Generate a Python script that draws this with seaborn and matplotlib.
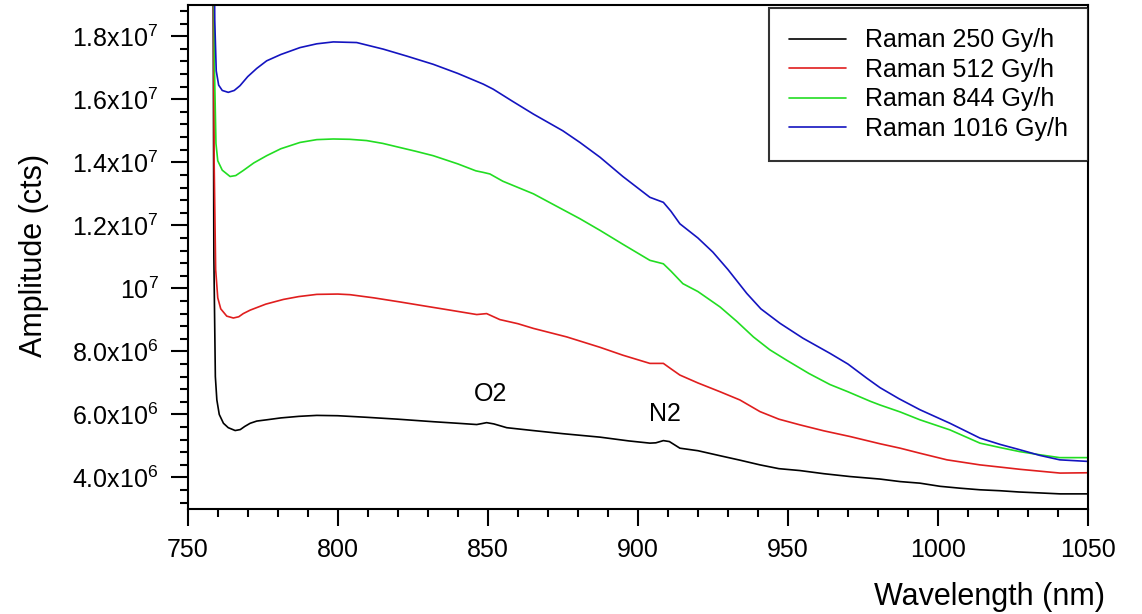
import pandas as pd
import matplotlib.pyplot as plt
from matplotlib.ticker import MultipleLocator
import seaborn as sns

# Raman spectra (wavelength in nm, amplitude in 1e6 counts)
x_250 = [758.2, 758.7, 759.2, 759.7, 760.5, 761.9, 763.5, 765.8, 767.5, 769, 770.8, 773, 776.3,
         781, 787, 793, 800, 809.6, 820, 831.8, 840, 846.3, 848, 849.6, 852, 856.3, 865, 875,
         887.4, 897, 904, 906, 908.5, 910.5, 914, 920, 927.4, 934, 940.7, 947, 954, 962, 970.7,
         980.7, 987.4, 994, 1000.7, 1007.4, 1014, 1020.7, 1027, 1034, 1040.7, 1050]
y_250 = [30, 11, 7.2, 6.46, 6.0, 5.72, 5.58, 5.49, 5.52, 5.62, 5.72, 5.79, 5.83,
         5.89, 5.94, 5.97, 5.96, 5.91, 5.85, 5.77, 5.72, 5.68, 5.71, 5.74, 5.70, 5.58, 5.49, 5.39,
         5.28, 5.16, 5.09, 5.10, 5.17, 5.14, 4.93, 4.85, 4.69, 4.55, 4.40, 4.28, 4.22, 4.12, 4.03,
         3.95, 3.87, 3.82, 3.72, 3.66, 3.61, 3.58, 3.54, 3.51, 3.48, 3.48]

x_512 = [758.2, 758.8, 759.3, 760, 761, 763, 765.2, 767, 768.5, 770.8, 776, 781.9, 787, 793,
         800, 804.1, 812, 820.7, 829, 837.4, 846.3, 849.6, 854, 860, 865.2, 876.3, 887.4, 895,
         904, 908.5, 911, 914, 920, 927.4, 934, 940.7, 947, 954, 962, 970.7, 980.7, 987.4, 994,
         1003, 1014, 1020.7, 1027.3, 1034, 1040.7, 1050]
y_512 = [30, 14, 10.6, 9.7, 9.35, 9.12, 9.06, 9.1, 9.2, 9.31, 9.5, 9.65, 9.74, 9.81,
         9.82, 9.80, 9.70, 9.57, 9.44, 9.31, 9.17, 9.20, 9.01, 8.88, 8.73, 8.46, 8.13, 7.88,
         7.62, 7.62, 7.45, 7.25, 7.0, 6.72, 6.46, 6.09, 5.85, 5.67, 5.48, 5.30, 5.07, 4.93, 4.77,
         4.56, 4.40, 4.33, 4.26, 4.20, 4.14, 4.15]

x_844 = [758.2, 758.9, 759.4, 760, 761.5, 764.1, 766, 768.5, 772, 776.3, 781, 787.4, 793,
         798.5, 804, 809.6, 815, 820.7, 826, 831.8, 840, 846, 848.5, 850.7, 855, 865.2, 875,
         880.7, 887.4, 895, 904, 908.5, 911, 915, 920, 927.4, 933, 938.5, 944, 949.6, 957, 964,
         970, 977.4, 980.7, 987.4, 994, 1004, 1014, 1020.7, 1027.3, 1034, 1040.6, 1050]
y_844 = [30, 17, 14.6, 14.05, 13.75, 13.55, 13.58, 13.74, 13.98, 14.21, 14.43, 14.63, 14.72,
         14.74, 14.73, 14.69, 14.60, 14.47, 14.35, 14.21, 13.95, 13.73, 13.68, 13.63, 13.40, 13.00, 12.50,
         12.21, 11.84, 11.40, 10.89, 10.78, 10.55, 10.15, 9.90, 9.41, 8.95, 8.46, 8.05, 7.72, 7.30, 6.95,
         6.72, 6.42, 6.30, 6.08, 5.83, 5.51, 5.09, 4.95, 4.82, 4.72, 4.63, 4.63]

x_1016 = [758.2, 759.0, 759.5, 760.3, 761.5, 763.5, 765.5, 767.4, 770, 773, 776.3, 781, 787.4,
          793, 798.5, 806.3, 815.2, 823, 831.8, 840, 848.5, 851.8, 858, 865.2, 875, 880.7, 887.4,
          895, 904, 908.5, 911, 914, 920, 925, 930, 936.3, 941, 947.4, 955, 964, 970, 976.3,
          980.7, 987, 994, 1004, 1014, 1020.7, 1027.3, 1034, 1040.6, 1050]
y_1016 = [30, 18.5, 16.9, 16.45, 16.28, 16.22, 16.28, 16.43, 16.72, 16.98, 17.22, 17.42, 17.64,
          17.76, 17.82, 17.80, 17.59, 17.37, 17.11, 16.82, 16.48, 16.32, 15.95, 15.53, 15.0, 14.63, 14.16,
          13.55, 12.89, 12.73, 12.45, 12.05, 11.6, 11.15, 10.6, 9.84, 9.35, 8.89, 8.42, 7.94, 7.6, 7.15,
          6.85, 6.5, 6.15, 5.72, 5.25, 5.05, 4.88, 4.70, 4.56, 4.51]

series_names = ['Raman 250 Gy/h', 'Raman 512 Gy/h', 'Raman 844 Gy/h', 'Raman 1016 Gy/h']
series_colors = ['#000000', '#e01e1e', '#22dd22', '#1414c0']

y_ticks = [4e6, 6e6, 8e6, 1e7, 1.2e7, 1.4e7, 1.6e7, 1.8e7]
y_tick_labels = [r'4.0x10$^{6}$', r'6.0x10$^{6}$', r'8.0x10$^{6}$', r'10$^{7}$',
                 r'1.2x10$^{7}$', r'1.4x10$^{7}$', r'1.6x10$^{7}$', r'1.8x10$^{7}$']

# long-form table for seaborn
frames = []
for name, xs, ys in zip(series_names, [x_250, x_512, x_844, x_1016], [y_250, y_512, y_844, y_1016]):
    frames.append(pd.DataFrame({'Wavelength': xs, 'Amplitude': [v * 1e6 for v in ys], 'Series': name}))
df = pd.concat(frames, ignore_index=True)

sns.set_style('ticks')
plt.rcParams['font.family'] = ['Liberation Sans', 'DejaVu Sans']
plt.rcParams['mathtext.fontset'] = 'custom'
plt.rcParams['mathtext.rm'] = 'Liberation Sans'
plt.rcParams['mathtext.it'] = 'Liberation Sans'
plt.rcParams['text.color'] = 'black'
plt.rcParams['xtick.labelcolor'] = 'black'
plt.rcParams['ytick.labelcolor'] = 'black'

fig = plt.figure(figsize=(11.42, 6.14), dpi=100)
ax = fig.add_axes([0.1644, 0.171, 0.7883, 0.8213])

sns.lineplot(data=df, x='Wavelength', y='Amplitude', hue='Series', palette=series_colors,
             estimator=None, linewidth=1.2, ax=ax)

ax.set_xlim(750, 1050)
ax.set_ylim(3e6, 1.9e7)
ax.set_xticks([750, 800, 850, 900, 950, 1000, 1050])
ax.xaxis.set_minor_locator(MultipleLocator(10))
ax.set_yticks(y_ticks, y_tick_labels)
ax.yaxis.set_minor_locator(MultipleLocator(4e5))
ax.tick_params(which='major', length=12, width=1.5, labelsize=18, pad=9, color='black', labelcolor='black')
ax.tick_params(which='minor', length=5.5, width=1.5, color='black')
for s in ax.spines.values():
    s.set_linewidth(1.5)
    s.set_color('black')

ax.set_xlabel('')
ax.set_ylabel('')
fig.text(990 / 1142, 1 - 597 / 614, 'Wavelength (nm)', fontsize=22, ha='center', va='center')
fig.text(34 / 1142, 1 - 255 / 614, 'Amplitude (cts)', fontsize=22, ha='center', va='center', rotation=90)

ax.text(851, 6.65e6, 'O2', fontsize=18, ha='center', va='center')
ax.text(909, 6.02e6, 'N2', fontsize=18, ha='center', va='center')

handles, labels = ax.get_legend_handles_labels()
leg = ax.legend(handles, labels, loc='upper right', bbox_to_anchor=(1.0, 0.993), borderaxespad=0,
                fontsize=18, frameon=True, fancybox=False, handlelength=2.3, labelspacing=0.22,
                borderpad=0.8, handletextpad=0.75, labelcolor='black')
leg.get_frame().set_edgecolor('black')
leg.get_frame().set_linewidth(1.5)
for line in leg.get_lines():
    line.set_linewidth(1.2)

fig.savefig('out.png', dpi=100)
